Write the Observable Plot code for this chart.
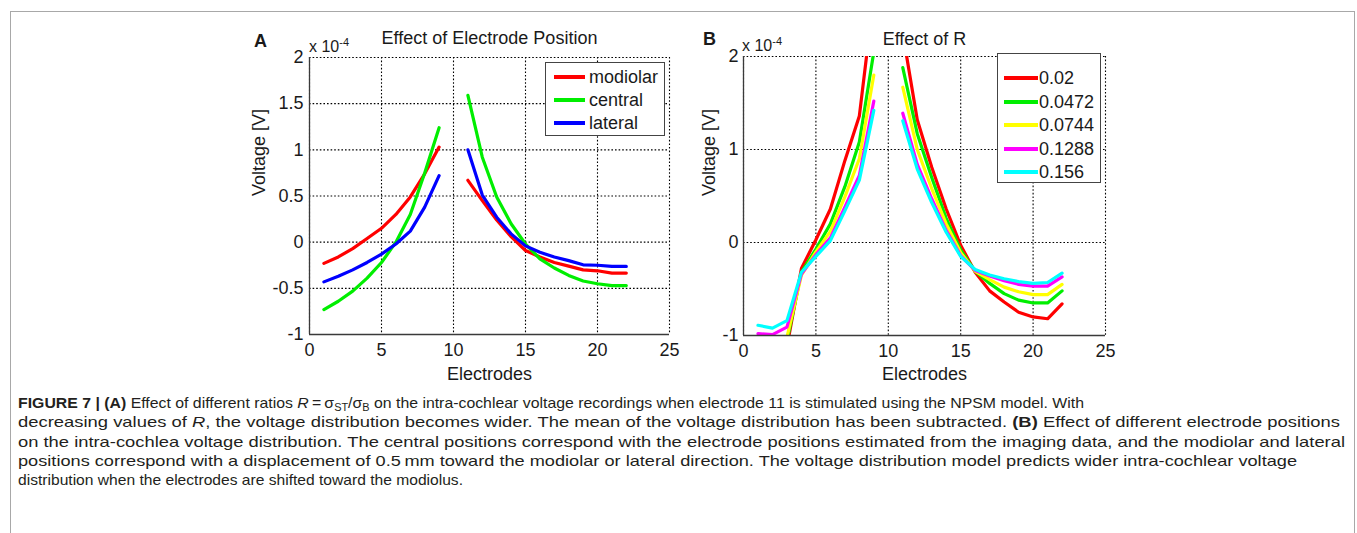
<!DOCTYPE html>
<html><head><meta charset="utf-8">
<script src="https://cdn.jsdelivr.net/npm/d3@7"></script>
<script src="https://cdn.jsdelivr.net/npm/@observablehq/plot@0.6"></script>
<style>
body{margin:0;background:#fff;font-family:"Liberation Sans",Arial,sans-serif;color:#1a1a1a;}
#page{position:relative;width:1357px;height:533px;overflow:hidden;background:#fff;}
#border{position:absolute;left:10px;top:11px;width:1343px;height:600px;border:1px solid #a8a8a8;}
.panel{position:absolute;}
.letter{position:absolute;font-weight:bold;font-size:18px;line-height:18px;}
.exp{position:absolute;font-size:16px;line-height:16px;white-space:nowrap;}
.exp sup{font-size:11px;position:relative;top:-5px;vertical-align:top;}
.legend{position:absolute;background:#fff;border:1px solid #444;box-sizing:border-box;}
.legend .row{position:absolute;left:0;height:20px;width:100%;}
.legend .sw{position:absolute;height:4px;top:8px;}
.legend .lb{position:absolute;font-size:18px;line-height:20px;top:0;white-space:nowrap;color:#1a1a1a;}
.cap{position:absolute;left:18px;font-size:14.5px;line-height:18px;white-space:nowrap;transform-origin:0 50%;color:#231f20;}
.cap sub{font-size:10px;vertical-align:-3px;line-height:0;}
</style></head>
<body><div id="page"><div id="border"></div></div>
<script>
// ---------- data (voltage in units of 1e-4 V) ----------
const electrodes = [1,2,3,4,5,6,7,8,9,10,11,12,13,14,15,16,17,18,19,20,21,22];
const xTicks = [0,5,10,15,20,25];
const yTicksA = [-1,-0.5,0,0.5,1,1.5,2];
const yTicksB = [-1,0,1,2];

// Panel A: effect of electrode position
const namesA = ["modiolar","central","lateral"];
const modiolar = [-0.23,-0.16,-0.07,0.04,0.15,0.30,0.49,0.74,1.03,null,0.67,0.45,0.24,0.06,-0.09,-0.16,-0.22,-0.26,-0.30,-0.31,-0.335,-0.335];
const central  = [-0.73,-0.64,-0.53,-0.39,-0.22,0.00,0.30,0.75,1.24,null,1.59,0.92,0.49,0.20,-0.02,-0.18,-0.28,-0.36,-0.42,-0.45,-0.47,-0.47];
const lateral  = [-0.43,-0.37,-0.30,-0.22,-0.13,-0.02,0.12,0.38,0.72,null,1.00,0.51,0.27,0.09,-0.04,-0.11,-0.16,-0.20,-0.245,-0.25,-0.263,-0.263];

// Panel B: effect of R
const namesB = ["0.02","0.0472","0.0744","0.1288","0.156"];
const r0020 = [-1.30,-1.30,-1.12,-0.28,0.03,0.36,0.88,1.36,2.65,null,2.25,1.32,0.81,0.36,-0.03,-0.32,-0.52,-0.64,-0.75,-0.80,-0.82,-0.66];
const r0472 = [-1.25,-1.25,-1.06,-0.32,-0.07,0.20,0.60,1.08,2.05,null,1.88,1.17,0.70,0.26,-0.08,-0.31,-0.44,-0.55,-0.62,-0.65,-0.65,-0.52];
const r0744 = [-1.20,-1.20,-1.02,-0.35,-0.10,0.12,0.49,0.90,1.80,null,1.67,1.00,0.58,0.20,-0.11,-0.31,-0.40,-0.48,-0.53,-0.56,-0.56,-0.45];
const r1288 = [-0.98,-0.99,-0.91,-0.34,-0.13,0.05,0.38,0.72,1.52,null,1.39,0.84,0.47,0.13,-0.14,-0.30,-0.36,-0.41,-0.45,-0.47,-0.47,-0.37];
const r1560 = [-0.89,-0.92,-0.84,-0.32,-0.15,0.02,0.34,0.67,1.42,null,1.31,0.79,0.43,0.11,-0.15,-0.29,-0.35,-0.39,-0.42,-0.44,-0.43,-0.33];

const colorsA = ["#ff0000","#00ee00","#0000ff"];
const colorsB = ["#ff0000","#00ee00","#ffff00","#ff00ff","#00ffff"];

function rows(names, series){
  const out = [];
  names.forEach((n,i)=>series[i].forEach((v,j)=>out.push({x:electrodes[j], y:v, s:n})));
  return out;
}

const page = document.getElementById("page");
const FONT = '"Liberation Sans", Arial, sans-serif';

function panel(o){
  const data = rows(o.names, o.series);
  const chart = Plot.plot({
    width:o.width, height:o.height,
    marginLeft:o.ml, marginRight:o.mr, marginTop:o.mt, marginBottom:o.mb,
    style:{fontFamily:FONT, fontSize:"18px", color:"#1a1a1a", background:"transparent", overflow:"visible"},
    x:{domain:[0,25]},
    y:{domain:[-1,2]},
    color:{domain:o.names, range:o.colors},
    marks:[
      Plot.gridX({ticks:xTicks, stroke:"#000", strokeOpacity:1, strokeWidth:1.1, strokeDasharray:"1.6,2"}),
      Plot.gridY({ticks:o.yTicks, stroke:"#000", strokeOpacity:1, strokeWidth:1.1, strokeDasharray:"1.6,2"}),
      Plot.line(data, {x:"x", y:"y", z:"s", stroke:"s", strokeWidth:3.2, clip:true, strokeLinejoin:"round"}),
      Plot.ruleX([0], {stroke:"#3a3a3a", strokeWidth:1.3}),
      Plot.ruleY([-1], {stroke:"#3a3a3a", strokeWidth:1.3}),
      Plot.axisX({ticks:xTicks, tickSize:0, tickPadding:9, tickFormat:d=>String(d), label:null, fontSize:18}),
      Plot.axisY({ticks:o.yTicks, tickSize:0, tickPadding:o.yPad, tickFormat:d=>String(d), label:null, fontSize:18}),
      Plot.text([o.title], {frameAnchor:"top", lineAnchor:"middle", text:d=>d, dy:o.titleDy, fontSize:18, fill:"#1a1a1a"}),
      Plot.text(["Electrodes"], {frameAnchor:"bottom", lineAnchor:"middle", text:d=>d, dy:o.xlabDy, fontSize:18, fill:"#1a1a1a"}),
      Plot.text(["Voltage [V]"], {frameAnchor:"left", lineAnchor:"middle", text:d=>d, rotate:-90, dx:o.ylabDx, fontSize:18, fill:"#1a1a1a"})
    ]
  });
  const d = document.createElement("div");
  d.className = "panel";
  d.style.left = o.left+"px"; d.style.top = o.top+"px";
  d.appendChild(chart);
  page.appendChild(d);

  // legend
  const lg = document.createElement("div");
  lg.className = "legend";
  Object.assign(lg.style, {left:o.lg.x+"px", top:o.lg.y+"px", width:o.lg.w+"px", height:o.lg.h+"px"});
  o.names.forEach((n,i)=>{
    const r = document.createElement("div");
    r.className = "row";
    r.style.top = (o.lg.first + i*o.lg.step - 10)+"px";
    const sw = document.createElement("div");
    sw.className = "sw";
    Object.assign(sw.style, {left:o.lg.swx+"px", width:o.lg.sww+"px", background:o.colors[i]});
    const lb = document.createElement("div");
    lb.className = "lb";
    lb.style.left = o.lg.tx+"px";
    lb.textContent = n;
    r.appendChild(sw); r.appendChild(lb);
    lg.appendChild(r);
  });
  page.appendChild(lg);

  // panel letter and exponent
  const L = document.createElement("div");
  L.className = "letter"; L.textContent = o.letter;
  L.style.left = o.letterPos[0]+"px"; L.style.top = o.letterPos[1]+"px";
  page.appendChild(L);
  const E = document.createElement("div");
  E.className = "exp"; E.innerHTML = "x 10<sup>-4</sup>";
  E.style.left = o.expPos[0]+"px"; E.style.top = o.expPos[1]+"px";
  page.appendChild(E);
}

panel({
  names:namesA, series:[modiolar,central,lateral], colors:colorsA, yTicks:yTicksA,
  left:240, top:30, width:450, height:360, ml:69, mr:21, mt:27, mb:56, yPad:6,
  title:"Effect of Electrode Position", titleDy:-19.5, xlabDy:40, ylabDx:-50.5,
  lg:{x:545, y:62, w:120, h:74, first:14, step:23, swx:8, sww:31, tx:43},
  letter:"A", letterPos:[254,32], expPos:[309,39]
});
panel({
  names:namesB, series:[r0020,r0472,r0744,r1288,r1560], colors:colorsB, yTicks:yTicksB,
  left:690, top:30, width:430, height:360, ml:53, mr:15, mt:26, mb:55, yPad:5,
  title:"Effect of R", titleDy:-17.7, xlabDy:38.5, ylabDx:-34,
  lg:{x:997, y:53, w:104, h:130, first:24, step:23.5, swx:6, sww:34, tx:41},
  letter:"B", letterPos:[703,30], expPos:[742,38]
});

// ---------- caption ----------
const capLines = [
  '<b>FIGURE 7 | (A)</b> Effect of different ratios <i>R</i>\u2009=\u2009σ<sub>ST</sub>/σ<sub>B</sub> on the intra-cochlear voltage recordings when electrode 11 is stimulated using the NPSM model. With',
  'decreasing values of <i>R</i>, the voltage distribution becomes wider. The mean of the voltage distribution has been subtracted. <b>(B)</b> Effect of different electrode positions',
  'on the intra-cochlea voltage distribution. The central positions correspond with the electrode positions estimated from the imaging data, and the modiolar and lateral',
  'positions correspond with a displacement of 0.5\u2009mm toward the modiolar or lateral direction. The voltage distribution model predicts wider intra-cochlear voltage',
  'distribution when the electrodes are shifted toward the modiolus.'
];
const capWidths = [1066, 1322, 1327, 1279, 445];
capLines.forEach((h,i)=>{
  const c = document.createElement("div");
  c.className = "cap";
  c.innerHTML = h;
  c.style.top = (394 + i*19.3)+"px";
  page.appendChild(c);
  const w = c.getBoundingClientRect().width;
  c.style.transform = `scaleX(${capWidths[i]/w})`;
});
</script>
</body></html>
